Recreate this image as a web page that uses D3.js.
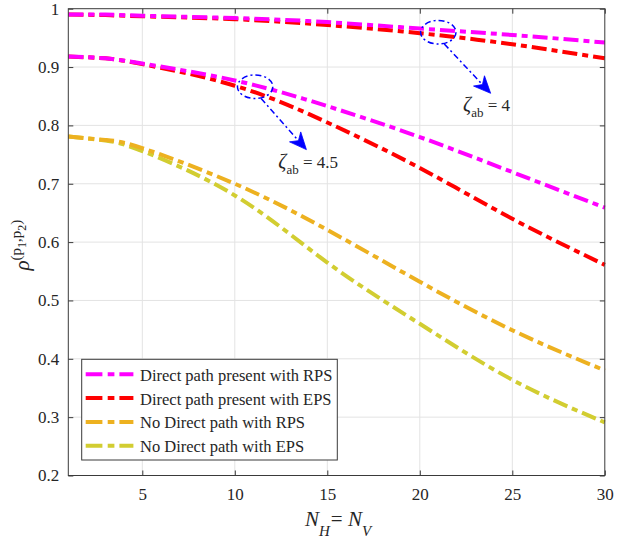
<!DOCTYPE html>
<html>
<head>
<meta charset="utf-8">
<script src="https://cdn.jsdelivr.net/npm/d3@7"></script>
<style>
  html, body { margin: 0; padding: 0; background: #fff; }
  svg { display: block; font-family: "Liberation Serif", "Times New Roman", serif; }
</style>
</head>
<body>
<svg id="chart" width="621" height="538"></svg>
<script>
// Array size N_H = N_V
const N = [1, 3, 5, 10, 15, 20, 25, 30];

// correlation coefficient rho^(p1,p2)
const directRps4  = [0.990, 0.990, 0.988, 0.984, 0.977, 0.966, 0.955, 0.942];
const directEps4  = [0.990, 0.989, 0.987, 0.982, 0.972, 0.958, 0.939, 0.915];
const directRps45 = [0.918, 0.915, 0.906, 0.877, 0.833, 0.780, 0.720, 0.659];
const directEps45 = [0.918, 0.915, 0.905, 0.868, 0.805, 0.727, 0.640, 0.561];
const noDirectRps = [0.781, 0.775, 0.761, 0.700, 0.621, 0.532, 0.449, 0.380];
const noDirectEps = [0.781, 0.774, 0.756, 0.680, 0.565, 0.460, 0.364, 0.291];

const legendLabels = [
  "Direct path present with RPS",
  "Direct path present with EPS",
  "No Direct path with RPS",
  "No Direct path with EPS"
];
const seriesColors = ["#ff00ff", "#ff0000", "#edb120", "#d2cd31"];

const xTicks = [5, 10, 15, 20, 25, 30];
const yTicks = [0.2, 0.3, 0.4, 0.5, 0.6, 0.7, 0.8, 0.9, 1];

// annotations: ellipse centre, arrow tip and label anchor (data units)
const notes = [
  { zeta: "4",   cx: 21.0, cy: 0.9597, tipX: 23.83, tipY: 0.855, lx: 22.34, ly: 0.8246 },
  { zeta: "4.5", cx: 11.1, cy: 0.8663, tipX: 13.87, tipY: 0.7585, lx: 12.35, ly: 0.7264 }
];

(function () {
const svg = d3.select("#chart");
const pLeft = 68.3, pRight = 604.8, pTop = 8.7, pBottom = 475.5;

const x = d3.scaleLinear().domain([1, 30]).range([pLeft, pRight]);
const y = d3.scaleLinear().domain([0.2, 1]).range([pBottom, pTop]);

const gridColor = "#e3e3e3";
const axisColor = "#3a3a3a";
const textColor = "#262626";

// grid
const grid = svg.append("g");
grid.selectAll(".gx").data(xTicks.filter(d => d < 30)).join("line")
  .attr("x1", d => x(d)).attr("x2", d => x(d))
  .attr("y1", pTop).attr("y2", pBottom)
  .attr("stroke", gridColor).attr("stroke-width", 1);
grid.selectAll(".gy").data(yTicks.filter(d => d > 0.2 && d < 1)).join("line")
  .attr("x1", pLeft).attr("x2", pRight)
  .attr("y1", d => y(d)).attr("y2", d => y(d))
  .attr("stroke", gridColor).attr("stroke-width", 1);

// curves
const line = d3.line()
  .x(d => x(d[0]))
  .y(d => y(d[1]))
  .curve(d3.curveNatural);

const dash = "15,5,6,5";
const curves = [
  { v: directEps4,  c: seriesColors[1] },
  { v: directRps4,  c: seriesColors[0] },
  { v: directEps45, c: seriesColors[1] },
  { v: directRps45, c: seriesColors[0] },
  { v: noDirectEps, c: seriesColors[3] },
  { v: noDirectRps, c: seriesColors[2] }
];
const plot = svg.append("g");
curves.forEach(s => {
  plot.append("path")
    .datum(N.map((n, i) => [n, s.v[i]]))
    .attr("d", line)
    .attr("fill", "none")
    .attr("stroke", s.c)
    .attr("stroke-width", 4)
    .attr("stroke-dasharray", dash);
});

// axes box with inward ticks
const axes = svg.append("g");
const bottomAxis = d3.axisBottom(x).tickValues(xTicks).tickSize(-5).tickPadding(12).tickFormat(d3.format("d"));
const topAxis = d3.axisTop(x).tickValues(xTicks).tickSize(-5).tickFormat("");
const leftAxis = d3.axisLeft(y).tickValues(yTicks).tickSize(-5).tickPadding(9).tickFormat(d => d === 1 ? "1" : d3.format(".1f")(d));
const rightAxis = d3.axisRight(y).tickValues(yTicks).tickSize(-5).tickFormat("");

function styleAxis(g) {
  g.select(".domain").remove();
  g.selectAll(".tick line").attr("stroke", axisColor);
  g.selectAll(".tick text").attr("fill", textColor).attr("font-size", 17)
    .attr("font-family", "Liberation Serif, Times New Roman, serif");
}
axes.append("g").attr("transform", `translate(0,${pBottom})`).call(bottomAxis).call(styleAxis);
axes.append("g").attr("transform", `translate(0,${pTop})`).call(topAxis).call(styleAxis);
axes.append("g").attr("transform", `translate(${pLeft},0)`).call(leftAxis).call(styleAxis);
axes.append("g").attr("transform", `translate(${pRight},0)`).call(rightAxis).call(styleAxis);
axes.append("rect")
  .attr("x", pLeft).attr("y", pTop)
  .attr("width", pRight - pLeft).attr("height", pBottom - pTop)
  .attr("fill", "none").attr("stroke", axisColor).attr("stroke-width", 1);

// annotations
const blue = "#0000ff";
const ann = svg.append("g");
notes.forEach(a => {
  const cx = x(a.cx), cy = y(a.cy);
  const rx = 17.7, ry = 11.8;
  ann.append("ellipse")
    .attr("cx", cx).attr("cy", cy).attr("rx", rx).attr("ry", ry)
    .attr("fill", "none").attr("stroke", blue).attr("stroke-width", 1.5)
    .attr("stroke-dasharray", "6,3,2,3");
  const sx = cx + 6, sy = cy + ry;
  const tx = x(a.tipX), ty = y(a.tipY);
  const len = Math.hypot(tx - sx, ty - sy);
  const ux = (tx - sx) / len, uy = (ty - sy) / len;
  const nx = -uy, ny = ux;
  const L = 17, W = 7.5, notch = 5;
  const bx = tx - (L - notch) * ux, by = ty - (L - notch) * uy;
  ann.append("line")
    .attr("x1", sx).attr("y1", sy).attr("x2", bx).attr("y2", by)
    .attr("stroke", blue).attr("stroke-width", 1.5)
    .attr("stroke-dasharray", "6,3,2,3");
  const head = [
    [tx, ty],
    [tx - L * ux + W * nx, ty - L * uy + W * ny],
    [bx, by],
    [tx - L * ux - W * nx, ty - L * uy - W * ny]
  ];
  ann.append("path")
    .attr("d", "M" + head.map(p => p.join(",")).join("L") + "Z")
    .attr("fill", blue).attr("stroke", blue).attr("stroke-width", 0.8);

  const t = ann.append("text")
    .attr("x", x(a.lx)).attr("y", y(a.ly))
    .attr("fill", textColor).attr("font-size", 17);
  t.append("tspan").attr("font-style", "italic").attr("font-size", 20).text("ζ");
  t.append("tspan").attr("font-size", 13).attr("dy", 6).text("ab");
  t.append("tspan").attr("dy", -6).text(" = " + a.zeta);
});

// legend
const lg = svg.append("g");
const lgX = 81.7, lgY = 359.3, lgW = 255.6, lgH = 100.7;
lg.append("rect")
  .attr("x", lgX).attr("y", lgY).attr("width", lgW).attr("height", lgH)
  .attr("fill", "#fff").attr("stroke", axisColor).attr("stroke-width", 1);
legendLabels.forEach((lab, i) => {
  const cy = 374.3 + i * 23.8;
  lg.append("line")
    .attr("x1", 85.7).attr("x2", 133.4).attr("y1", cy).attr("y2", cy)
    .attr("stroke", seriesColors[i]).attr("stroke-width", 4)
    .attr("stroke-dasharray", "16.7,5.3,6.7,5");
  lg.append("text")
    .attr("x", 140).attr("y", cy + 6.5)
    .attr("fill", textColor).attr("font-size", 16.5)
    .text(lab);
});

// axis labels
const xl = svg.append("text")
  .attr("x", 305).attr("y", 526)
  .attr("fill", textColor).attr("font-size", 21);
xl.append("tspan").attr("font-style", "italic").text("N");
xl.append("tspan").attr("font-style", "italic").attr("font-size", 15).attr("dy", 10).text("H");
xl.append("tspan").attr("dy", -10).attr("dx", 1).text("= ");
xl.append("tspan").attr("font-style", "italic").text("N");
xl.append("tspan").attr("font-style", "italic").attr("font-size", 15).attr("dy", 10).text("V");

const yl = svg.append("text")
  .attr("transform", `translate(29,${(pTop + pBottom) / 2 + 3}) rotate(-90)`)
  .attr("text-anchor", "middle")
  .attr("fill", textColor).attr("font-size", 21);
yl.append("tspan").attr("font-style", "italic").text("ρ");
yl.append("tspan").attr("font-size", 15).attr("dy", -8).text("(p");
yl.append("tspan").attr("font-size", 12).attr("dy", 5).text("1");
yl.append("tspan").attr("font-size", 15).attr("dy", -5).text(",p");
yl.append("tspan").attr("font-size", 12).attr("dy", 5).text("2");
yl.append("tspan").attr("font-size", 15).attr("dy", -5).text(")");
})();
</script>
</body>
</html>
